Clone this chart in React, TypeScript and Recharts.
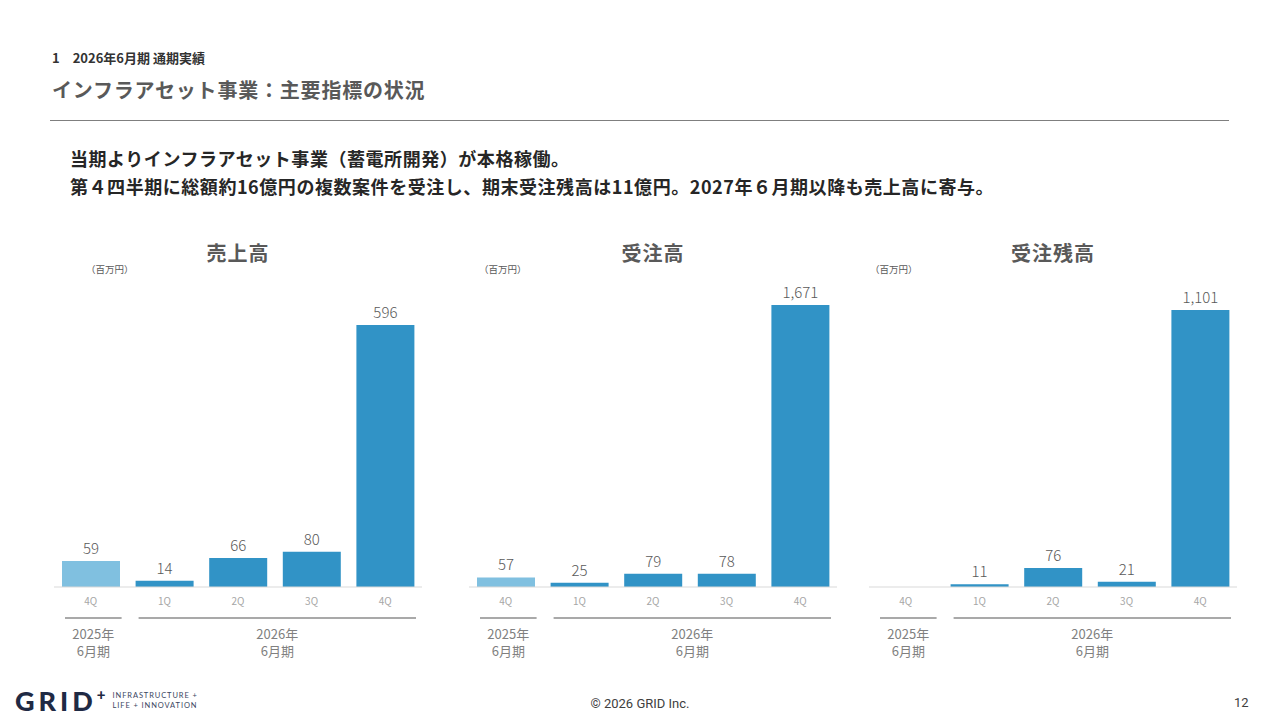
import React from "react";
import { BarChart, Bar, XAxis, YAxis, Cell, LabelList } from "recharts";

const periods = ["FY25-4Q", "FY26-1Q", "FY26-2Q", "FY26-3Q", "FY26-4Q"];
const quarterLabels = ["4Q", "1Q", "2Q", "3Q", "4Q"];
const salesValues = [59, 14, 66, 80, 596];
const orderValues = [57, 25, 79, 78, 1671];
const backlogValues: (number | null)[] = [null, 11, 76, 21, 1101];
const yearGroups = [
  { lines: ["2025年", "6月期"], start: 0, end: 0 },
  { lines: ["2026年", "6月期"], start: 1, end: 4 },
];
const panelTitles = ["売上高", "受注高", "受注残高"];
const unitLabel = "（百万円）";

const FONT = '"Noto Sans CJK JP", "Noto Sans", sans-serif';
const BAR = "#3193c6";
const BAR_PREV = "#80c0e0";
const PLOT_W = 368;
const CHART_TOP = 280;
const CHART_H = 390;
const AXIS_H = 83;

function PeriodTick(props: any) {
  const { x, y, index } = props;
  const band = PLOT_W / periods.length;
  const group = yearGroups.find((g) => g.start === index);
  let groupEl = null;
  if (group) {
    const x1 = x - band / 2 + 11;
    const x2 = x + (group.end - group.start) * band + band / 2 - 6;
    const cx = (x1 + x2) / 2;
    groupEl = (
      <g>
        <line x1={x1} x2={x2} y1={y + 31} y2={y + 31} stroke="#8c8c8c" strokeWidth={1.5} />
        <text x={cx} y={y + 52} textAnchor="middle" fontSize={13} fill="#808080">
          {group.lines[0]}
        </text>
        <text x={cx} y={y + 69} textAnchor="middle" fontSize={13} fill="#808080">
          {group.lines[1]}
        </text>
      </g>
    );
  }
  return (
    <g>
      <text x={x} y={y + 18} textAnchor="middle" fontSize={10} fill="#a6a6a6">
        {quarterLabels[index]}
      </text>
      {groupEl}
    </g>
  );
}

function Panel({
  title,
  values,
  left,
  unitLeft,
  topMargin,
}: {
  title: string;
  values: (number | null)[];
  left: number;
  unitLeft: number;
  topMargin: number;
}) {
  const data = periods.map((p, i) => ({ period: p, value: values[i] }));
  const max = Math.max(...values.map((v) => v ?? 0));
  return (
    <>
      <div
        style={{
          position: "absolute",
          left: left,
          width: PLOT_W,
          top: 238,
          textAlign: "center",
          fontSize: 20,
          fontWeight: 700,
          letterSpacing: 1,
          color: "#595959",
        }}
      >
        {title}
      </div>
      <div
        style={{
          position: "absolute",
          left: unitLeft,
          top: 262,
          fontSize: 9.5,
          color: "#595959",
        }}
      >
        {unitLabel}
      </div>
      <div style={{ position: "absolute", left: left, top: CHART_TOP }}>
        <BarChart
          width={PLOT_W}
          height={CHART_H}
          data={data}
          margin={{ top: topMargin, right: 0, bottom: 0, left: 0 }}
          style={{ overflow: "visible" }}
        >
          <XAxis
            dataKey="period"
            interval={0}
            height={AXIS_H}
            tickLine={false}
            tickSize={0}
            tickMargin={0}
            axisLine={{ stroke: "#d9d9d9", strokeWidth: 1 }}
            tick={<PeriodTick />}
          />
          <YAxis hide domain={[0, max]} allowDataOverflow />
          <Bar dataKey="value" barSize={58} isAnimationActive={false}>
            {data.map((d, i) => (
              <Cell key={d.period} fill={i === 0 ? BAR_PREV : BAR} />
            ))}
            <LabelList
              dataKey="value"
              position="top"
              offset={7}
              fontSize={15}
              fontWeight={300}
              fill="#595959"
              formatter={(v: any) => (v == null ? "" : Number(v).toLocaleString("en-US"))}
            />
          </Bar>
        </BarChart>
      </div>
    </>
  );
}

export default function App() {
  return (
    <div
      style={{
        position: "fixed",
        left: 0,
        top: 0,
        width: 1280,
        height: 720,
        background: "#ffffff",
        fontFamily: FONT,
        overflow: "hidden",
      }}
    >
      <div
        style={{
          position: "absolute",
          left: 52,
          top: 48,
          fontSize: 13,
          fontWeight: 700,
          color: "#333333",
          whiteSpace: "pre",
        }}
      >
        {"1　2026年6月期 通期実績"}
      </div>
      <div
        style={{
          position: "absolute",
          left: 52,
          top: 75,
          fontSize: 20,
          fontWeight: 700,
          letterSpacing: 0.8,
          color: "#595959",
        }}
      >
        インフラアセット事業：主要指標の状況
      </div>
      <div
        style={{
          position: "absolute",
          left: 50,
          top: 120,
          width: 1179,
          height: 1,
          background: "#7f7f7f",
        }}
      />
      <div
        style={{
          position: "absolute",
          left: 70,
          top: 144,
          fontSize: 18,
          fontWeight: 700,
          letterSpacing: 0.55,
          lineHeight: "28px",
          color: "#262626",
          whiteSpace: "nowrap",
        }}
      >
        <div>当期よりインフラアセット事業（蓄電所開発）が本格稼働。</div>
        <div>第４四半期に総額約16億円の複数案件を受注し、期末受注残高は11億円。2027年６月期以降も売上高に寄与。</div>
      </div>

      <Panel title={panelTitles[0]} values={salesValues} left={54} unitLeft={86} topMargin={45} />
      <Panel title={panelTitles[1]} values={orderValues} left={469} unitLeft={479} topMargin={25} />
      <Panel title={panelTitles[2]} values={backlogValues} left={869} unitLeft={870} topMargin={30} />

      <div
        style={{
          position: "absolute",
          left: 15,
          top: 687,
          display: "flex",
          alignItems: "center",
          color: "#1f2a44",
        }}
      >
        <span
          style={{
            fontFamily: "Lato, sans-serif",
            fontWeight: 900,
            fontSize: 27,
            letterSpacing: 4,
            lineHeight: "28px",
          }}
        >
          GRID
        </span>
        <span
          style={{
            fontFamily: "Lato, sans-serif",
            fontWeight: 900,
            fontSize: 15,
            lineHeight: "15px",
            alignSelf: "flex-start",
          }}
        >
          +
        </span>
        <div
          style={{
            marginLeft: 7,
            fontFamily: "Lato, sans-serif",
            fontSize: 7.5,
            lineHeight: "10px",
            letterSpacing: 0.9,
            color: "#3a4560",
          }}
        >
          <div>INFRASTRUCTURE +</div>
          <div>LIFE + INNOVATION</div>
        </div>
      </div>
      <div
        style={{
          position: "absolute",
          left: 540,
          width: 200,
          top: 696,
          textAlign: "center",
          fontFamily: '"Liberation Sans Narrow", Roboto, sans-serif',
          fontSize: 13,
          color: "#404040",
        }}
      >
        © 2026 GRID Inc.
      </div>
      <div
        style={{
          position: "absolute",
          left: 1234,
          top: 695,
          fontFamily: '"Liberation Sans Narrow", Roboto, sans-serif',
          fontSize: 13,
          color: "#404040",
        }}
      >
        12
      </div>
    </div>
  );
}
